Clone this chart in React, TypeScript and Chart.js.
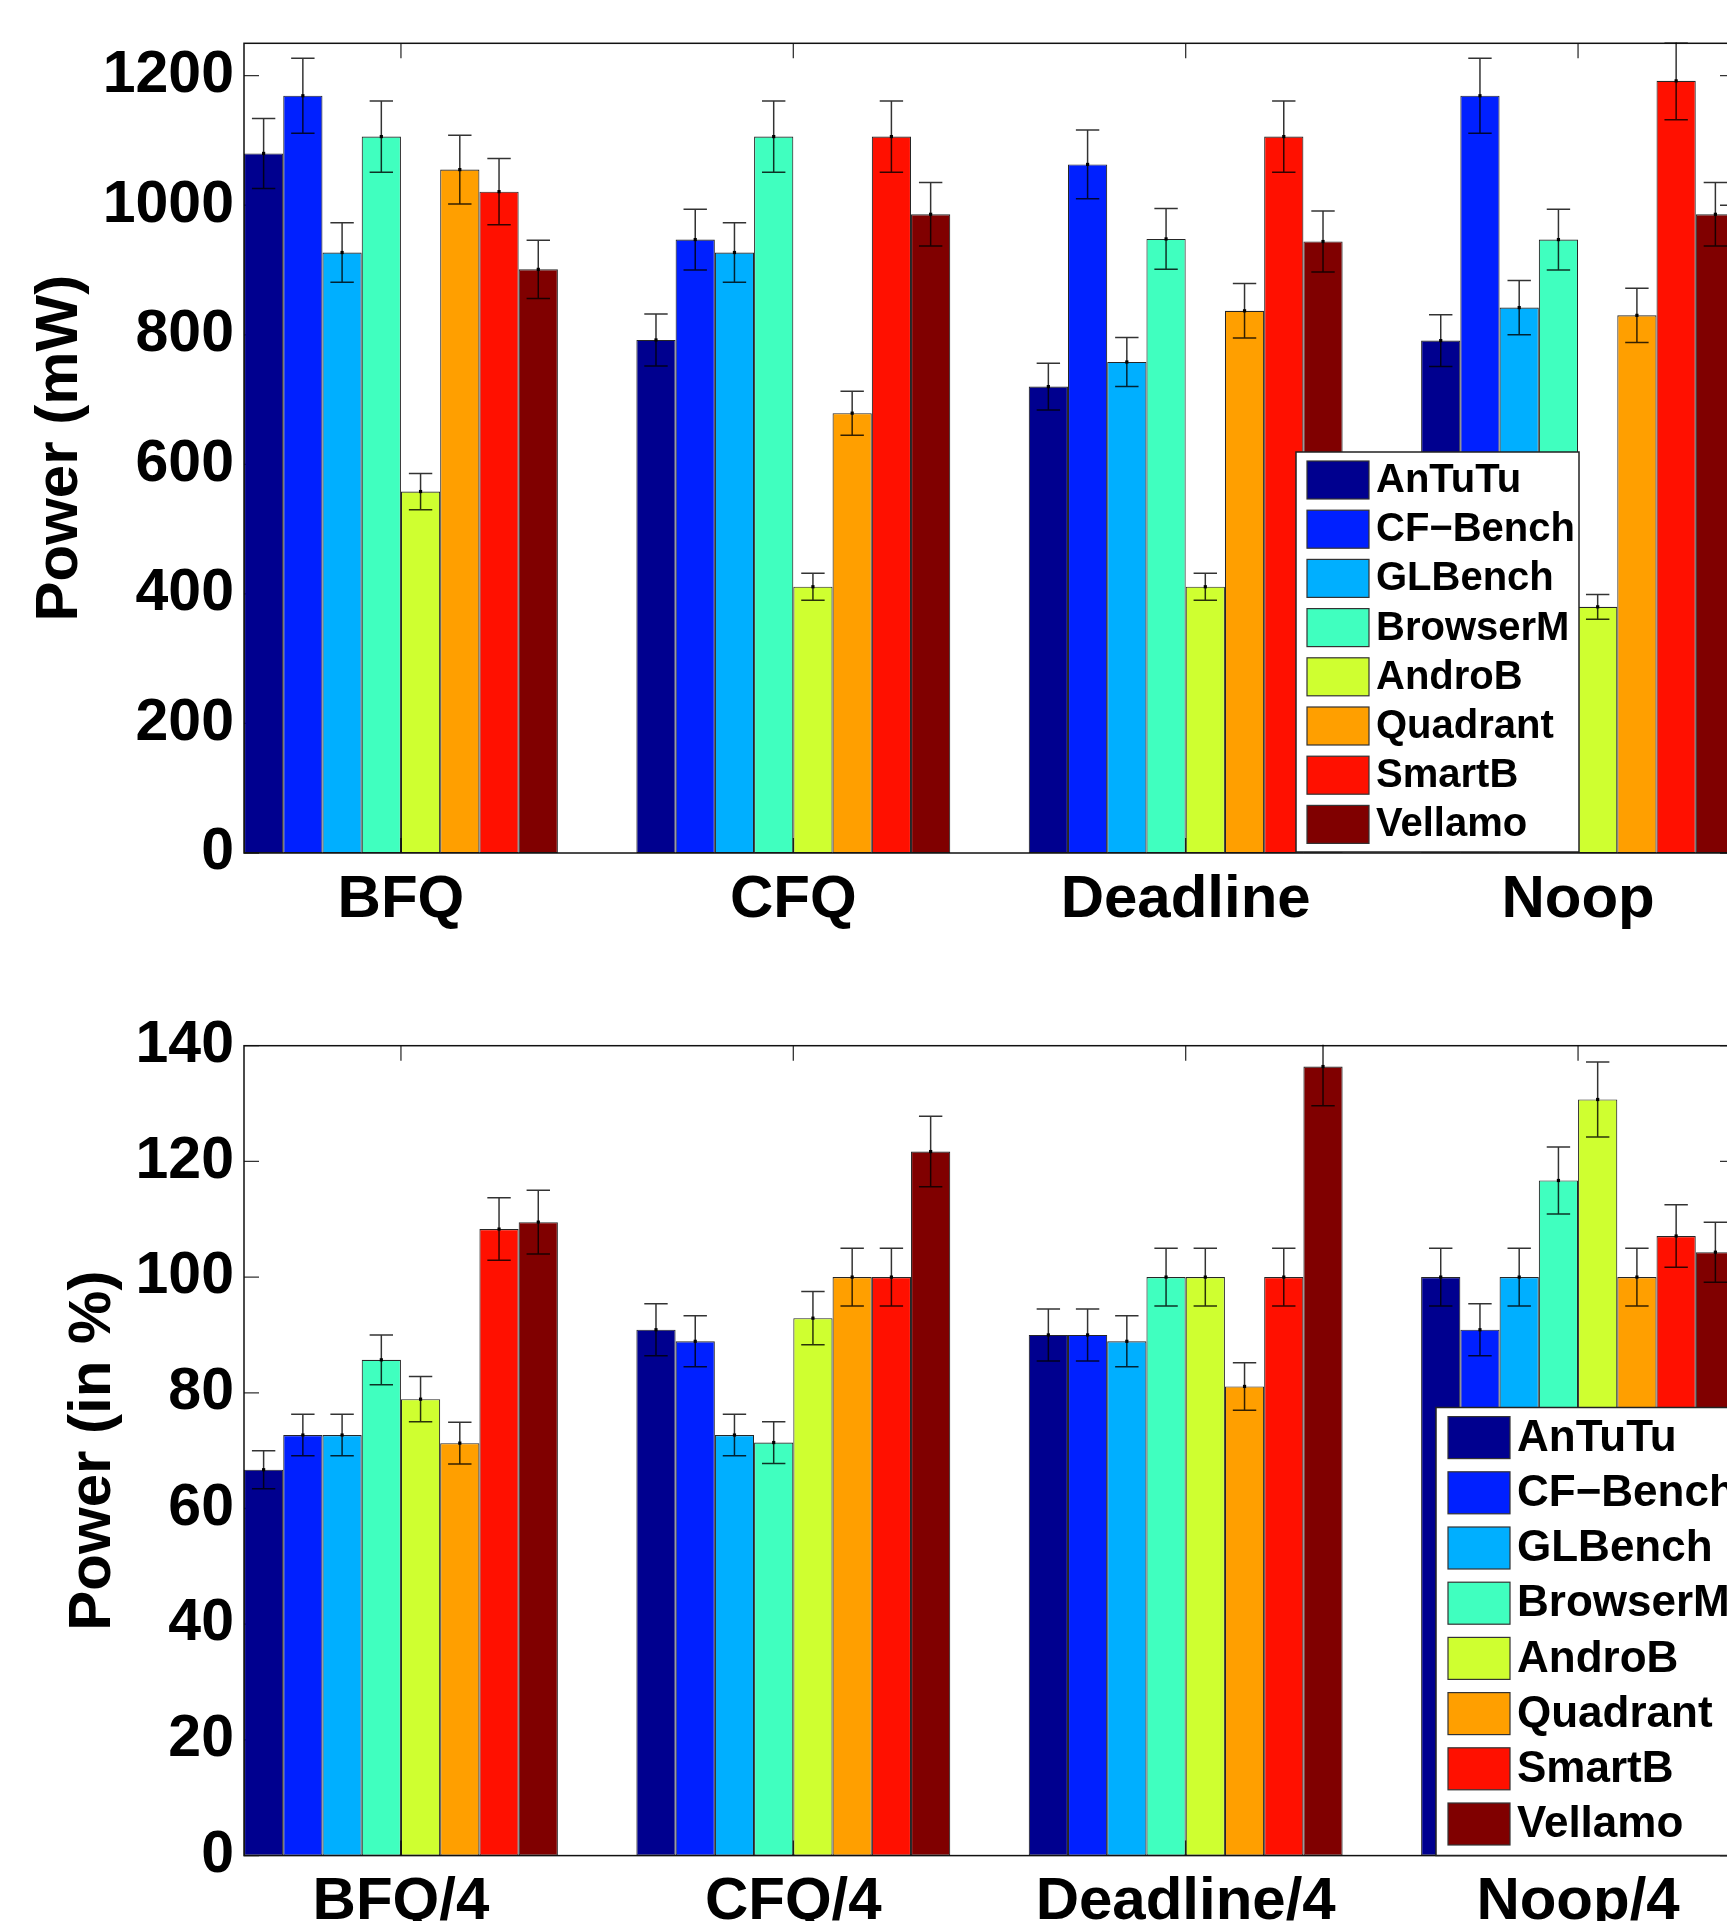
import React, { useEffect, useRef } from 'react';
import { Chart, registerables } from 'chart.js';

Chart.register(...registerables);

// ---------- data ----------
const benchmarks = ['AnTuTu', 'CF−Bench', 'GLBench', 'BrowserM', 'AndroB', 'Quadrant', 'SmartB', 'Vellamo'];
const benchColors = ['#00008F', '#0020FF', '#00AFFF', '#40FFBF', '#CFFF30', '#FF9F00', '#FF1000', '#800000'];

const topCategories = ['BFQ', 'CFQ', 'Deadline', 'Noop'];
const bottomCategories = ['BFQ/4', 'CFQ/4', 'Deadline/4', 'Noop/4'];

const topYTicks = [0, 200, 400, 600, 800, 1000, 1200];
const bottomYTicks = [0, 20, 40, 60, 80, 100, 120, 140];

// Power (mW) per benchmark, across BFQ, CFQ, Deadline, Noop
const mwAnTuTu = [1080, 792, 720, 791];
const mwCFBench = [1169, 947, 1063, 1169];
const mwGLBench = [927, 927, 758, 842];
const mwBrowserM = [1106, 1106, 948, 947];
const mwAndroB = [558, 411, 411, 380];
const mwQuadrant = [1055, 679, 837, 830];
const mwSmartB = [1021, 1106, 1106, 1192];
const mwVellamo = [901, 986, 944, 986];

const mwErrAnTuTu = [54, 40, 36, 40];
const mwErrCFBench = [58, 47, 53, 58];
const mwErrGLBench = [46, 46, 38, 42];
const mwErrBrowserM = [55, 55, 47, 47];
const mwErrAndroB = [28, 21, 21, 19];
const mwErrQuadrant = [53, 34, 42, 42];
const mwErrSmartB = [51, 55, 55, 60];
const mwErrVellamo = [45, 49, 47, 49];

// Power (in %) per benchmark, across BFQ/4, CFQ/4, Deadline/4, Noop/4
const pctAnTuTu = [66.7, 90.9, 90, 100];
const pctCFBench = [72.7, 88.9, 90, 90.9];
const pctGLBench = [72.7, 72.7, 88.9, 100];
const pctBrowserM = [85.7, 71.4, 100, 116.7];
const pctAndroB = [78.9, 92.9, 100, 130.7];
const pctQuadrant = [71.3, 100, 81.1, 100];
const pctSmartB = [108.3, 100, 100, 107.1];
const pctVellamo = [109.5, 121.7, 136.4, 104.3];

const pctErrAnTuTu = [3.3, 4.5, 4.5, 5];
const pctErrCFBench = [3.6, 4.4, 4.5, 4.5];
const pctErrGLBench = [3.6, 3.6, 4.4, 5];
const pctErrBrowserM = [4.3, 3.6, 5, 5.8];
const pctErrAndroB = [3.9, 4.6, 5, 6.5];
const pctErrQuadrant = [3.6, 5, 4.1, 5];
const pctErrSmartB = [5.4, 5, 5, 5.4];
const pctErrVellamo = [5.5, 6.1, 6.8, 5.2];

const topSeries = [mwAnTuTu, mwCFBench, mwGLBench, mwBrowserM, mwAndroB, mwQuadrant, mwSmartB, mwVellamo];
const topErrors = [mwErrAnTuTu, mwErrCFBench, mwErrGLBench, mwErrBrowserM, mwErrAndroB, mwErrQuadrant, mwErrSmartB, mwErrVellamo];
const bottomSeries = [pctAnTuTu, pctCFBench, pctGLBench, pctBrowserM, pctAndroB, pctQuadrant, pctSmartB, pctVellamo];
const bottomErrors = [pctErrAnTuTu, pctErrCFBench, pctErrGLBench, pctErrBrowserM, pctErrAndroB, pctErrQuadrant, pctErrSmartB, pctErrVellamo];

// ---------- layout ----------
const FONT = '"Liberation Sans", Arial, Helvetica, sans-serif';
const CW = 1800;
const CH = 960;

type LegendCfg = { x: number; y: number; w: number; h: number; rowY: number; rowStep: number; swX: number; swW: number; swH: number; textX: number; font: number };
type PanelCfg = {
  categories: string[];
  series: number[][];
  errors: number[][];
  yTicks: number[];
  yMax: number;
  title: string;
  titleX: number;
  padTop: number;
  plotBottom: number;
  legend: LegendCfg;
};

const topPanel: PanelCfg = {
  categories: topCategories,
  series: topSeries,
  errors: topErrors,
  yTicks: topYTicks,
  yMax: 1250,
  title: 'Power (mW)',
  titleX: 60,
  padTop: 43.3,
  plotBottom: 853,
  legend: { x: 1296, y: 452, w: 283, h: 400, rowY: 480, rowStep: 49.2, swX: 1307, swW: 62, swH: 38, textX: 1376, font: 40 },
};

const bottomPanel: PanelCfg = {
  categories: bottomCategories,
  series: bottomSeries,
  errors: bottomErrors,
  yTicks: bottomYTicks,
  yMax: 140,
  title: 'Power (in %)',
  titleX: 93,
  padTop: 45.7,
  plotBottom: 855.6,
  legend: { x: 1436, y: 407.5, w: 340, h: 448, rowY: 437.6, rowStep: 55.2, swX: 1448, swW: 62, swH: 42, textX: 1517, font: 44 },
};

function makePlugin(cfg: PanelCfg) {
  return {
    id: 'matlabStyle',
    beforeDatasetsDraw(chart: any) {
      const { ctx, chartArea: ca, scales } = chart;
      const tl = 15;
      ctx.save();
      ctx.strokeStyle = '#333';
      ctx.lineWidth = 1.3;
      ctx.beginPath();
      cfg.yTicks.forEach((v) => {
        const y = scales.y.getPixelForValue(v);
        ctx.moveTo(ca.left, y);
        ctx.lineTo(ca.left + tl, y);
        ctx.moveTo(ca.right, y);
        ctx.lineTo(ca.right - tl, y);
      });
      cfg.categories.forEach((_, i) => {
        const x = scales.x.getPixelForValue(i + 1);
        ctx.moveTo(x, ca.top);
        ctx.lineTo(x, ca.top + tl);
        ctx.moveTo(x, ca.bottom);
        ctx.lineTo(x, ca.bottom - tl);
      });
      ctx.stroke();
      ctx.restore();
    },
    afterDatasetsDraw(chart: any) {
      const { ctx, chartArea: ca, scales } = chart;
      // frame
      ctx.save();
      ctx.strokeStyle = '#111';
      ctx.lineWidth = 1.5;
      ctx.strokeRect(ca.left, ca.top, ca.right - ca.left, ca.bottom - ca.top);
      ctx.restore();
      // error bars
      ctx.save();
      ctx.beginPath();
      ctx.rect(ca.left, ca.top - 1, ca.right - ca.left, ca.bottom - ca.top + 2);
      ctx.clip();
      chart.data.datasets.forEach((ds: any, i: number) => {
        const meta = chart.getDatasetMeta(i);
        meta.data.forEach((el: any, j: number) => {
          const v = ds.data[j].y;
          const e = ds.errors[j];
          const x = el.x;
          const yHi = scales.y.getPixelForValue(v + e);
          const yLo = scales.y.getPixelForValue(v - e);
          const yc = scales.y.getPixelForValue(v);
          const cap = 11.7;
          ctx.strokeStyle = 'rgba(0,0,0,0.8)';
          ctx.lineWidth = 1.5;
          ctx.beginPath();
          ctx.moveTo(x, yLo);
          ctx.lineTo(x, yHi);
          ctx.moveTo(x - cap, yLo);
          ctx.lineTo(x + cap, yLo);
          ctx.moveTo(x - cap, yHi);
          ctx.lineTo(x + cap, yHi);
          ctx.stroke();
          ctx.fillStyle = '#000';
          ctx.fillRect(x - 1.6, yc - 1.6, 3.2, 3.2);
        });
      });
      ctx.restore();
    },
    afterDraw(chart: any) {
      const { ctx, chartArea: ca } = chart;
      // legend
      const L = cfg.legend;
      ctx.save();
      ctx.fillStyle = '#fff';
      ctx.fillRect(L.x, L.y, L.w, L.h);
      ctx.strokeStyle = '#222';
      ctx.lineWidth = 1.5;
      ctx.strokeRect(L.x, L.y, L.w, L.h);
      ctx.font = `bold ${L.font}px ${FONT}`;
      ctx.textAlign = 'left';
      ctx.textBaseline = 'middle';
      chart.data.datasets.forEach((ds: any, i: number) => {
        const cy = L.rowY + i * L.rowStep;
        ctx.fillStyle = ds.backgroundColor;
        ctx.fillRect(L.swX, cy - L.swH / 2, L.swW, L.swH);
        ctx.strokeStyle = '#333';
        ctx.lineWidth = 1.2;
        ctx.strokeRect(L.swX, cy - L.swH / 2, L.swW, L.swH);
        ctx.fillStyle = '#000';
        ctx.fillText(ds.label, L.textX, cy + 1);
      });
      ctx.restore();
      // y axis title
      ctx.save();
      ctx.translate(cfg.titleX, (ca.top + ca.bottom) / 2);
      ctx.rotate(-Math.PI / 2);
      ctx.font = `bold 60px ${FONT}`;
      ctx.fillStyle = '#000';
      ctx.textAlign = 'center';
      ctx.textBaseline = 'middle';
      ctx.fillText(cfg.title, 0, 0);
      ctx.restore();
    },
  };
}

function buildChart(canvas: HTMLCanvasElement, cfg: PanelCfg) {
  const datasets = benchmarks.map((name, i) => ({
    label: name,
    data: cfg.series[i].map((v, j) => ({ x: j + 1, y: v })),
    errors: cfg.errors[i],
    backgroundColor: benchColors[i],
    borderColor: 'rgba(0,0,0,0.85)',
    borderWidth: 1.1,
    borderSkipped: false,
    categoryPercentage: 0.8,
    barPercentage: 1.0,
  }));
  return new Chart(canvas, {
    type: 'bar',
    data: { datasets } as any,
    plugins: [makePlugin(cfg)],
    options: {
      responsive: false,
      animation: false,
      devicePixelRatio: 1,
      layout: { padding: { top: cfg.padTop, right: CW - 1735, left: 0, bottom: 0 } },
      plugins: { legend: { display: false }, tooltip: { enabled: false }, title: { display: false } },
      scales: {
        x: {
          type: 'linear',
          min: 0.6,
          max: 4.4,
          offset: false,
          grid: { display: false, drawTicks: false },
          border: { display: false },
          afterBuildTicks: (scale: any) => {
            scale.ticks = cfg.categories.map((_, i) => ({ value: i + 1 }));
          },
          afterFit: (scale: any) => {
            scale.height = CH - cfg.plotBottom;
          },
          ticks: {
            autoSkip: false,
            maxRotation: 0,
            padding: 11,
            color: '#000',
            font: { family: FONT, size: 60, weight: 'bold' },
            callback: (value: any) => cfg.categories[Math.round(Number(value)) - 1] ?? '',
          },
        },
        y: {
          type: 'linear',
          min: 0,
          max: cfg.yMax,
          grid: { display: false, drawTicks: false },
          border: { display: false },
          afterBuildTicks: (scale: any) => {
            scale.ticks = cfg.yTicks.map((v) => ({ value: v }));
          },
          afterFit: (scale: any) => {
            scale.width = 244;
          },
          ticks: {
            padding: 10,
            color: '#000',
            font: { family: FONT, size: 59, weight: 'bold', lineHeight: 1 },
            callback: (value: any) => String(value),
          },
        },
      },
    } as any,
  });
}

export default function App() {
  const topRef = useRef<HTMLCanvasElement>(null);
  const bottomRef = useRef<HTMLCanvasElement>(null);

  useEffect(() => {
    document.body.style.margin = '0';
    document.body.style.overflow = 'hidden';
    const c1 = buildChart(topRef.current as HTMLCanvasElement, topPanel);
    const c2 = buildChart(bottomRef.current as HTMLCanvasElement, bottomPanel);
    return () => {
      c1.destroy();
      c2.destroy();
    };
  }, []);

  return (
    <div style={{ position: 'relative', width: 1727, height: 1921, overflow: 'hidden', background: '#fff' }}>
      <canvas ref={topRef} width={CW} height={CH} style={{ position: 'absolute', left: 0, top: 0, width: CW, height: CH }} />
      <canvas ref={bottomRef} width={CW} height={CH} style={{ position: 'absolute', left: 0, top: 1000, width: CW, height: CH }} />
    </div>
  );
}
